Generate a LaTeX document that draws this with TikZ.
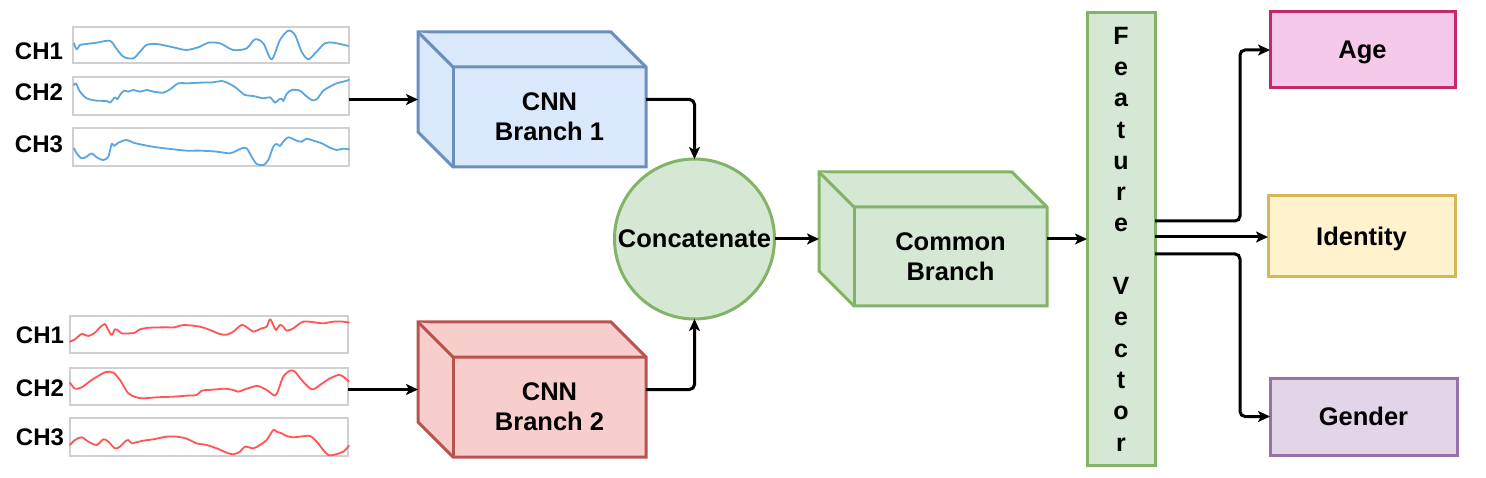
\documentclass[tikz,border=0pt]{standalone}
\usepackage{fontspec}
\setmainfont{Liberation Sans}
\usetikzlibrary{arrows.meta,calc}
\definecolor{bluefill}{HTML}{DAE8FC}\definecolor{bluedraw}{HTML}{6C8EBF}
\definecolor{redfill}{HTML}{F8CECC}\definecolor{reddraw}{HTML}{B85450}
\definecolor{greenfill}{HTML}{D5E8D4}\definecolor{greendraw}{HTML}{82B366}
\definecolor{yelfill}{HTML}{FFF2CC}\definecolor{yeldraw}{HTML}{D6B656}
\definecolor{purfill}{HTML}{E1D5E7}\definecolor{purdraw}{HTML}{9673A6}
\definecolor{pinkfill}{HTML}{F5C9EA}\definecolor{pinkdraw}{HTML}{C3286B}
\definecolor{sigblue}{HTML}{5AA6DE}\definecolor{sigred}{HTML}{FF5555}
\definecolor{sigframe}{HTML}{D0D0D0}
\newcommand{\drawcubefaces}[2]{%
  \filldraw[#2] (#1.north west) -- ($(#1.north east)+(-35,0)$) -- ($(#1.north east)+(0,35)$) -- (#1.south east) -- ($(#1.south west)+(35,0)$) -- ($(#1.south west)+(0,-35)$) -- cycle;
  \draw[#2] (#1.north west) -- ($(#1.north west)+(35,35)$) -- ($(#1.north east)+(0,35)$);
  \draw[#2] ($(#1.north west)+(35,35)$) -- ($(#1.south west)+(35,0)$);
}
\begin{document}
\begin{tikzpicture}[x=1pt,y=-1pt,
  sigbox/.style={draw=sigframe, line width=1.5pt, fill=white, minimum width=276pt, inner sep=0pt, outer sep=0pt},
  chlabel/.style={font=\fontsize{24}{28}\selectfont\bfseries, inner sep=0pt},
  sigline/.style={line width=1.8pt, line join=round, line cap=round},
  cubeouter/.style={minimum width=228pt, minimum height=135pt, inner sep=0pt, outer sep=0pt},
  cubetext/.style={font=\fontsize{25.5}{30}\selectfont\bfseries, align=center, inner sep=0pt},
  bluecube/.style={fill=bluefill, draw=bluedraw, line width=3pt, line join=miter},
  redcube/.style={fill=redfill, draw=reddraw, line width=3pt, line join=miter},
  greencube/.style={fill=greenfill, draw=greendraw, line width=3pt, line join=miter},
  outbox/.style={line width=3pt, inner sep=0pt, outer sep=0pt, text height=18pt, text depth=0pt, font=\fontsize{25.5}{30}\selectfont\bfseries},
  arr/.style={draw=black, line width=3pt, rounded corners=5pt, -{Stealth[length=12pt,width=11pt,inset=3pt]}}
]
\useasboundingbox (0,0) rectangle (1486,478);

% ---------- top signal group ----------
\node[sigbox, minimum height=36pt] (s1a) at (211,45) {};
\node[sigbox, minimum height=38pt] (s1b) at (211,96) {};
\node[sigbox, minimum height=38pt] (s1c) at (211,147) {};
\node[chlabel] (l1a) at (39,51) {CH1};
\node[chlabel] (l1b) at (39,92.5) {CH2};
\node[chlabel] (l1c) at (39,144) {CH3};
\begin{scope}[shift={(0pt,-20pt)}, x=0.3333pt, y=-0.3333pt]
\draw[sigline, sigblue] plot[smooth, tension=0.5] coordinates {(222,70) (230,88) (240,75) (260,72) (290,68) (330,62) (345,80) (370,110) (400,115) (420,95) (440,75) (470,72) (520,82) (560,90) (600,80) (625,68) (660,70) (700,90) (740,85) (765,58) (790,70) (815,118) (840,60) (865,32) (885,45) (905,95) (925,118) (950,95) (975,70) (1000,68) (1045,78)};
\draw[sigline, sigblue] plot[smooth, tension=0.5] coordinates {(222,195) (228,190) (240,215) (260,235) (290,242) (320,243) (330,248) (345,232) (352,238) (360,225) (372,212) (385,215) (400,210) (420,215) (440,210) (460,215) (490,218) (510,208) (535,190) (560,190) (600,188) (640,187) (665,183) (690,192) (710,205) (735,225) (760,228) (790,235) (810,232) (825,248) (835,240) (845,236) (850,243) (860,222) (875,210) (900,212) (915,225) (935,240) (950,238) (970,212) (990,200) (1010,190) (1030,185) (1047,180)};
\draw[sigline, sigblue] plot[smooth, tension=0.5] coordinates {(222,385) (230,400) (245,415) (260,410) (275,400) (290,412) (310,420) (325,410) (335,372) (343,378) (355,368) (380,360) (400,368) (430,375) (470,382) (520,388) (560,392) (600,392) (650,395) (690,400) (710,392) (725,385) (740,385) (755,410) (770,432) (790,435) (805,420) (820,380) (830,372) (840,378) (850,365) (865,352) (890,362) (905,365) (920,356) (940,362) (965,370) (990,383) (1010,390) (1030,386) (1047,388)};
\end{scope}

% ---------- bottom signal group ----------
\node[sigbox, minimum width=278pt, minimum height=37pt] (s2a) at (209,334.5) {};
\node[sigbox, minimum width=278pt, minimum height=37pt] (s2b) at (209,386.5) {};
\node[sigbox, minimum width=278pt, minimum height=38pt] (s2c) at (209,437) {};
\node[chlabel] (l2a) at (40,335) {CH1};
\node[chlabel] (l2b) at (40,388) {CH2};
\node[chlabel] (l2c) at (40,437.5) {CH3};
\begin{scope}[shift={(0pt,-310pt)}, x=0.3333pt, y=-0.3333pt]
\draw[sigline, sigred] plot[smooth, tension=0.5] coordinates {(210,95) (225,88) (245,72) (265,78) (285,68) (300,52) (315,42) (322,55) (335,75) (345,58) (355,62) (365,70) (390,70) (405,68) (420,58) (450,53) (500,52) (525,52) (550,45) (600,50) (630,60) (660,72) (680,74) (700,65) (725,45) (745,55) (760,65) (785,55) (800,50) (810,28) (820,45) (828,60) (840,45) (850,50) (860,62) (880,55) (910,35) (950,38) (970,40) (1000,35) (1030,35) (1047,38)};
\draw[sigline, sigred] plot[smooth, tension=0.5] coordinates {(210,218) (225,236) (245,232) (275,210) (300,195) (318,186) (340,188) (360,210) (385,250) (410,262) (430,265) (470,262) (520,260) (560,257) (590,255) (605,242) (625,240) (650,238) (675,236) (700,240) (715,245) (735,238) (760,230) (775,228) (800,240) (825,257) (835,240) (850,200) (870,182) (885,185) (905,210) (935,238) (960,225) (985,208) (1015,195) (1030,200) (1047,215)};
\draw[sigline, sigred] plot[smooth, tension=0.5] coordinates {(210,405) (225,390) (245,382) (265,395) (290,405) (310,388) (325,395) (345,415) (360,410) (375,395) (385,390) (395,400) (405,398) (430,392) (460,388) (500,380) (530,380) (560,386) (590,400) (620,405) (650,415) (680,428) (700,433) (720,425) (735,410) (760,415) (780,405) (800,390) (820,360) (830,365) (845,370) (860,378) (880,382) (900,380) (930,378) (950,395) (970,420) (985,435) (1000,435) (1030,425) (1047,407)};
\end{scope}

% ---------- cubes ----------
\node[cubeouter] (cnn1) at (532,99.5) {};
\drawcubefaces{cnn1}{bluecube}
\node[cubetext] (cnn1t) at ($(cnn1.center)+(17.5,17.5)$) {CNN\\Branch 1};

\node[cubeouter] (cnn2) at (532,389.5) {};
\drawcubefaces{cnn2}{redcube}
\node[cubetext] (cnn2t) at ($(cnn2.center)+(17.5,17.5)$) {CNN\\Branch 2};

\node[cubeouter, minimum height=134pt] (common) at (933,239) {};
\drawcubefaces{common}{greencube}
\node[cubetext] (commont) at ($(common.center)+(17.5,17.5)$) {Common\\Branch};

% ---------- concatenate ----------
\node[circle, fill=greenfill, draw=greendraw, line width=3pt, minimum size=160pt, inner sep=0pt, outer sep=0pt,
      font=\fontsize{25.5}{30}\selectfont\bfseries] (conc) at (694.5,239) {Concatenate};

% ---------- feature vector ----------
\node[fill=greenfill, draw=greendraw, line width=3pt, minimum width=68pt, minimum height=452pt, inner sep=0pt, outer sep=0pt,
      align=center, font=\fontsize{25}{31.3}\selectfont\bfseries] (fv) at (1121,239)
  {F\\e\\a\\t\\u\\r\\e\\\mbox{}\\V\\e\\c\\t\\o\\r};

% ---------- outputs ----------
\node[outbox, fill=pinkfill, draw=pinkdraw, minimum width=185pt, minimum height=76pt] (age) at (1362.5,50) {Age};
\node[outbox, fill=yelfill, draw=yeldraw, minimum width=187pt, minimum height=81pt] (ident) at (1361.5,236.5) {Identity};
\node[outbox, fill=purfill, draw=purdraw, minimum width=187pt, minimum height=77pt] (gender) at (1363.5,416.5) {Gender};

% ---------- connectors ----------
\draw[arr] (s1b.east |- cnn1.west) -- (cnn1.west);
\draw[arr] (s2b.east |- cnn2.west) -- (cnn2.west);
\draw[arr] (cnn1.east) -| (conc.north);
\draw[arr] (cnn2.east) -| (conc.south);
\draw[arr] (conc.east) -- (common.west);
\draw[arr] (common.east) -- (fv.west);
\coordinate (bend) at (1240,0);
\coordinate (fvo1) at ($(fv.east)+(0,-18)$);
\coordinate (fvo2) at ($(fv.east)+(0,-2)$);
\coordinate (fvo3) at ($(fv.east)+(0,15)$);
\draw[arr] (fvo1) -- (fvo1 -| bend) |- (age.west);
\draw[arr] (fvo2) -- (fvo2 -| ident.west);
\draw[arr] (fvo3) -- (fvo3 -| bend) |- (gender.west);
\end{tikzpicture}
\end{document}
